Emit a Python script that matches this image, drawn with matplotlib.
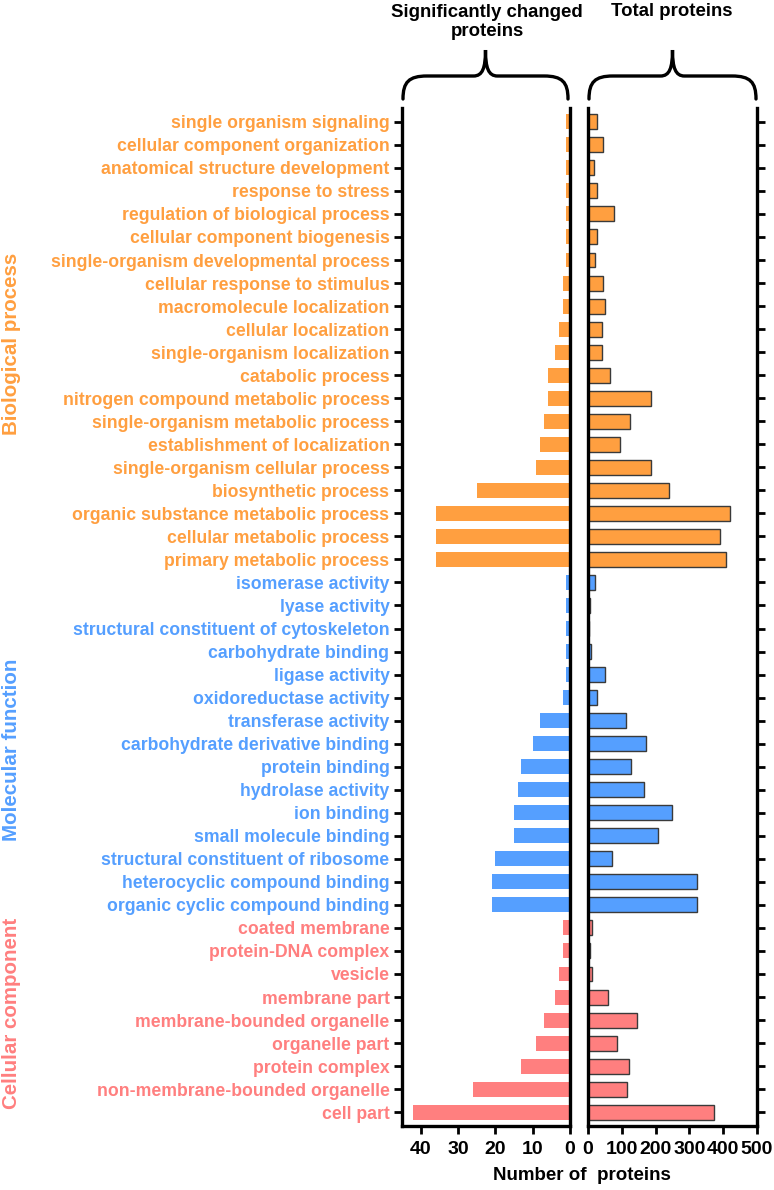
import matplotlib
matplotlib.use("Agg")
import matplotlib.pyplot as plt
from matplotlib.path import Path
from matplotlib.patches import PathPatch

plt.rcParams['font.family'] = ['Liberation Sans', 'DejaVu Sans']
plt.rcParams['font.weight'] = 'bold'

# GO terms, top to bottom
bio_terms = ['single organism signaling', 'cellular component organization',
             'anatomical structure development', 'response to stress',
             'regulation of biological process', 'cellular component biogenesis',
             'single-organism developmental process', 'cellular response to stimulus',
             'macromolecule localization', 'cellular localization',
             'single-organism localization', 'catabolic process',
             'nitrogen compound metabolic process', 'single-organism metabolic process',
             'establishment of localization', 'single-organism cellular process',
             'biosynthetic process', 'organic substance metabolic process',
             'cellular metabolic process', 'primary metabolic process']
bio_changed = [1, 1, 1, 1, 1, 1, 1, 2, 2, 3, 4, 6, 6, 7, 8, 9, 25, 36, 36, 36]
bio_total = [27, 44, 17, 27, 77, 27, 20, 43, 49, 41, 42, 65, 185, 125, 94, 187, 241, 419, 390, 408]

mol_terms = ['isomerase activity', 'lyase activity', 'structural constituent of cytoskeleton',
             'carbohydrate binding', 'ligase activity', 'oxidoreductase activity',
             'transferase activity', 'carbohydrate derivative binding', 'protein binding',
             'hydrolase activity', 'ion binding', 'small molecule binding',
             'structural constituent of ribosome', 'heterocyclic compound binding',
             'organic cyclic compound binding']
mol_changed = [1, 1, 1, 1, 1, 2, 8, 10, 13, 14, 15, 15, 20, 21, 21]
mol_total = [20, 5, 2, 10, 49, 26, 112, 171, 128, 165, 248, 206, 71, 323, 323]

cel_terms = ['coated membrane', 'protein-DNA complex', 'vesicle', 'membrane part',
             'membrane-bounded organelle', 'organelle part', 'protein complex',
             'non-membrane-bounded organelle', 'cell part']
cel_changed = [2, 2, 3, 4, 7, 9, 13, 26, 42]
cel_total = [13, 6, 13, 60, 144, 85, 120, 114, 374]

groups = ['Biological process', 'Molecular function', 'Cellular component']
group_colors = ['#FF9F40', '#559FFF', '#FF7F7F']

terms = bio_terms + mol_terms + cel_terms
changed = bio_changed + mol_changed + cel_changed
total = bio_total + mol_total + cel_total
colors = ([group_colors[0]] * len(bio_terms) + [group_colors[1]] * len(mol_terms)
          + [group_colors[2]] * len(cel_terms))
ypos = list(range(len(terms)))

W, H = 774, 1190
fig = plt.figure(figsize=(W / 100, H / 100), dpi=100)

top, bot = 108, 1126
axL = fig.add_axes([402 / W, 1 - bot / H, (570 - 402) / W, (bot - top) / H])
axR = fig.add_axes([588 / W, 1 - bot / H, (757 - 588) / W, (bot - top) / H])

axL.barh(ypos, changed, height=0.65, color=colors, edgecolor='none')
axR.barh(ypos, total, height=0.65, color=colors, edgecolor='#3a3a3a', linewidth=1)

for ax in (axL, axR):
    ax.set_ylim(len(terms) - 0.4, -0.6)
    ax.spines['top'].set_visible(False)
    for s in ax.spines.values():
        s.set_linewidth(2.4)
    ax.tick_params(axis='x', width=2, length=6, labelsize=14, pad=5)

axL.set_xlim(45, 0)
axL.set_xticks([40, 30, 20, 10, 0])
axL.set_yticks(ypos)
axL.set_yticklabels(terms, fontsize=12.7, fontweight='bold')
for lab, c in zip(axL.get_yticklabels(), colors):
    lab.set_color(c)
axL.tick_params(axis='y', width=2, length=6, pad=3)

axR.set_xlim(0, 500)
axR.set_xticks([0, 100, 200, 300, 400, 500])
axR.yaxis.tick_right()
axR.set_yticks(ypos)
axR.set_yticklabels([])
axR.tick_params(axis='y', width=2, length=6)

for ax in (axL, axR):
    for t in ax.get_xticklabels():
        t.set_fontweight('bold')

fig.text(582 / W, 1 - 1176 / H, 'Number of  proteins', ha='center', va='center',
         fontsize=13.5, fontweight='bold')

# group labels on the far left
group_y = [344, 750, 1013]
for g, c, yy in zip(groups, group_colors, group_y):
    fig.text(12 / W, 1 - yy / H, g, rotation=90, ha='center', va='center',
             color=c, fontsize=14.8, fontweight='bold')

# panel titles
fig.text(487 / W, 1 - 22 / H, 'Significantly changed\nproteins', ha='center', va='center',
         fontsize=13.4, fontweight='bold', linespacing=1.1)
fig.text(672 / W, 1 - 12 / H, 'Total proteins', ha='center', va='center',
         fontsize=13.4, fontweight='bold')

# braces drawn in pixel coordinates on an overlay axes
ov = fig.add_axes([0, 0, 1, 1], zorder=-1)
ov.set_xlim(0, W)
ov.set_ylim(H, 0)
ov.axis('off')


def brace(x0, x1, ybase=99, yflat=76, ytip=50):
    xm = (x0 + x1) / 2
    verts = [(x0, ybase), (x0, yflat + 6), (x0 + 6, yflat), (x0 + 24, yflat),
             (xm - 12, yflat),
             (xm - 3, yflat), (xm, yflat - 8), (xm, ytip),
             (xm, yflat - 8), (xm + 3, yflat), (xm + 12, yflat),
             (x1 - 24, yflat),
             (x1 - 6, yflat), (x1, yflat + 6), (x1, ybase)]
    codes = [Path.MOVETO, Path.CURVE4, Path.CURVE4, Path.CURVE4,
             Path.LINETO,
             Path.CURVE4, Path.CURVE4, Path.CURVE4,
             Path.CURVE4, Path.CURVE4, Path.CURVE4,
             Path.LINETO,
             Path.CURVE4, Path.CURVE4, Path.CURVE4]
    ov.add_patch(PathPatch(Path(verts, codes), fill=False, lw=2.4, color='black',
                           capstyle='round'))


brace(403, 568)
brace(589, 756)

fig.savefig('out.png', dpi=100)
